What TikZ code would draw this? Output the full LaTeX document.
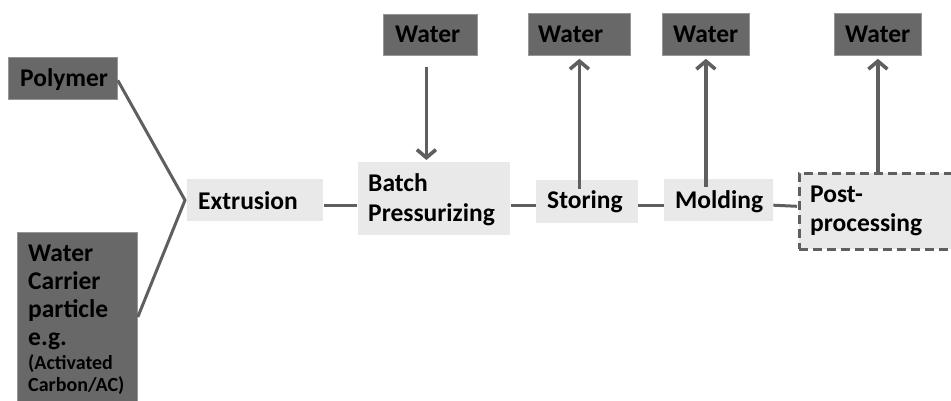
\documentclass[tikz,border=0pt]{standalone}
\usepackage{fontspec}
\setmainfont{Carlito}
\usetikzlibrary{arrows.meta}
\definecolor{darkfill}{RGB}{104,104,104}
\definecolor{darkedge}{RGB}{150,150,150}
\definecolor{lightfill}{RGB}{233,233,233}
\definecolor{linegray}{RGB}{95,95,95}
\begin{document}
\begin{tikzpicture}[x=1pt,y=-1pt,
  darkbox/.style={fill=darkfill, draw=darkedge, line width=0.8pt, inner sep=0pt, anchor=north west},
  lightbox/.style={fill=lightfill, inner sep=0pt, anchor=north west},
  dashbox/.style={fill=lightfill, draw=linegray, line width=2.6pt, dash pattern=on 9pt off 5pt, inner sep=0pt, anchor=north west},
  lbl/.style={font=\bfseries\fontsize{25.5}{30}\selectfont, inner sep=0pt, anchor=base west},
  smalllbl/.style={font=\bfseries\fontsize{20}{22}\selectfont, inner sep=0pt, anchor=base west},
  conn/.style={draw=linegray, line width=3pt},
  arr/.style={draw=linegray, line width=3.6pt, -{Straight Barb[length=8pt,width=19pt]}}]
\useasboundingbox (0,0) rectangle (951,401);
\clip (0,0) rectangle (951,401);
% boxes
\node[darkbox, minimum width=109pt, minimum height=42pt] (poly) at (8,57) {};
\node[darkbox, minimum width=120pt, minimum height=190pt] (carrier) at (17,232) {};
\node[darkbox, minimum width=94pt, minimum height=41pt] (w1) at (383,14) {};
\node[darkbox, minimum width=102pt, minimum height=42pt] (w2) at (528,13) {};
\node[darkbox, minimum width=87pt, minimum height=42pt] (w3) at (662,13) {};
\node[darkbox, minimum width=87pt, minimum height=42pt] (w4) at (834,13) {};
\node[lightbox, minimum width=136pt, minimum height=42pt] (ext) at (187,179) {};
\node[lightbox, minimum width=152pt, minimum height=73pt] (bat) at (358,162) {};
\node[lightbox, minimum width=102pt, minimum height=43pt] (sto) at (536,180) {};
\node[lightbox, minimum width=109pt, minimum height=42pt] (mol) at (664,179) {};
\node[dashbox, minimum width=200pt, minimum height=76pt] (post) at (798,172) {};
% texts
\node[lbl] (tpoly) at (20,87) {Polymer};
\node[lbl] (tc1) at (28,261) {Water};
\node[lbl] (tc2) at (28,289) {Carrier};
\node[lbl] (tc3) at (28,317) {particle};
\node[lbl] (tc4) at (28,345) {e.g.};
\node[smalllbl] (tc5) at (28,369) {(Activated};
\node[smalllbl] (tc6) at (28,391) {Carbon/AC)};
\node[lbl] (tw1) at (395,43) {Water};
\node[lbl] (tw2) at (538,43) {Water};
\node[lbl] (tw3) at (673,43) {Water};
\node[lbl] (tw4) at (845,43) {Water};
\node[lbl] (text) at (198,209) {Extrusion};
\node[lbl] (tbat1) at (368,192) {Batch};
\node[lbl] (tbat2) at (368,222) {Pressurizing};
\node[lbl] (tsto) at (547,208) {Storing};
\node[lbl] (tmol) at (675,208) {Molding};
\node[lbl] (tpost1) at (810,203) {Post-};
\node[lbl] (tpost2) at (810,231) {processing};
% connectors
\coordinate (apex) at ([xshift=-2pt]ext.west);
\draw[conn, line join=miter] ([shift={(0,2)}]poly.east) -- (apex) -- ([shift={(0,85)}]carrier.north east);
\draw[conn] ([shift={(1,5)}]ext.east) -- ([shift={(-1,6.5)}]bat.west);
\draw[conn] ([shift={(1,6.5)}]bat.east) -- ([shift={(0,3.5)}]sto.west);
\draw[conn] ([shift={(0,3.5)}]sto.east) -- ([shift={(0,5)}]mol.west);
\draw[conn] ([shift={(0,5)}]mol.east) -- ([shift={(-1,-5)}]post.west);
% water arrows
\draw[arr] ([shift={(-4,11)}]w1.south) -- ([shift={(-4,-2)}]w1.south |- bat.north);
\draw[arr] ([yshift=-9pt]w2.south |- sto.north) -- ([yshift=-3pt]w2.south);
\draw[arr] ([yshift=-8pt]w3.south |- mol.north) -- ([yshift=-3pt]w3.south);
\draw[arr] ([yshift=-1pt]w4.south |- post.north) -- ([yshift=-3pt]w4.south);
\end{tikzpicture}
\end{document}
